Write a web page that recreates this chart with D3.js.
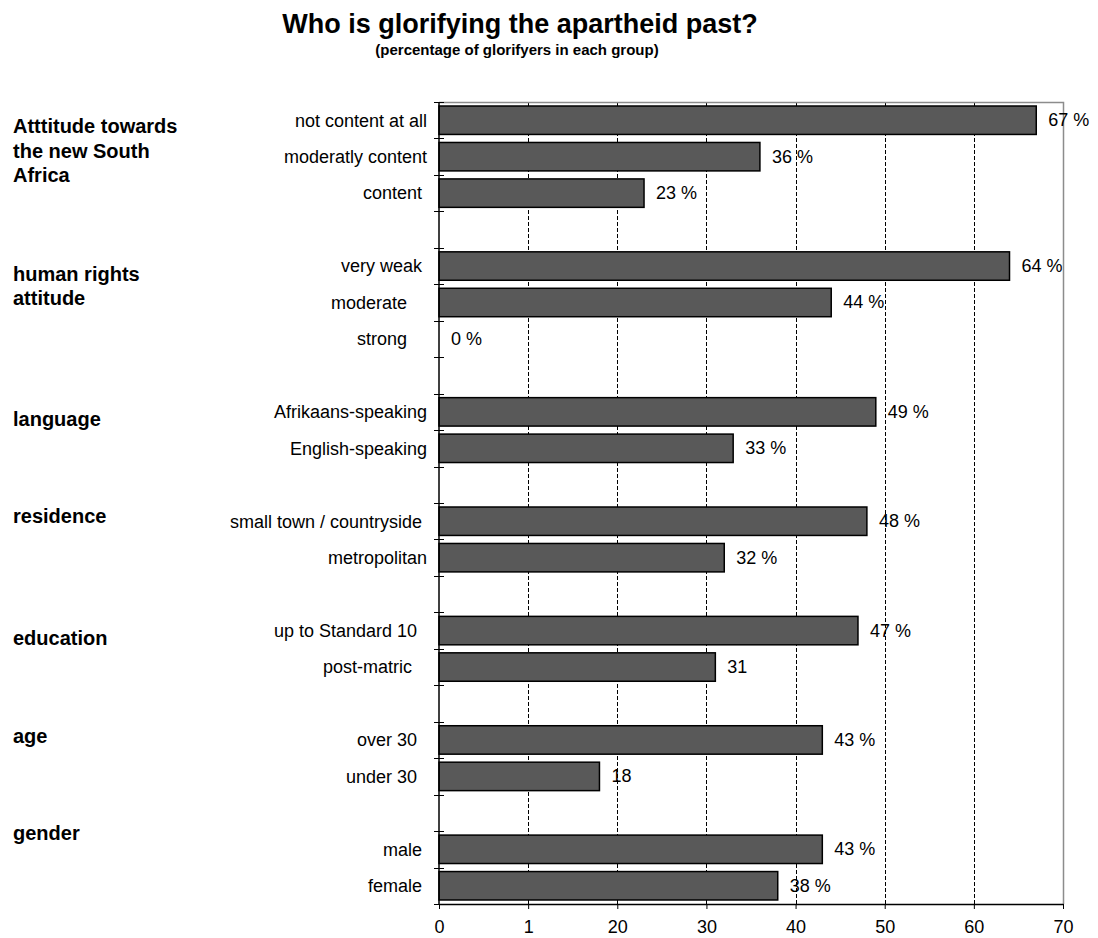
<!DOCTYPE html>
<html>
<head>
<meta charset="utf-8">
<script src="https://cdn.jsdelivr.net/npm/d3@7"></script>
<style>
  body { margin: 0; background: #fff; }
  svg { font-family: "Liberation Sans", Arial, sans-serif; }
  text { white-space: pre; }
</style>
</head>
<body>
<div id="chart"></div>
<script>
// Chart data
const title = "Who is glorifying the apartheid past?";
const subtitle = "(percentage of glorifyers in each group)";

const groupNames = [
  ["Atttitude towards", "the new South", "Africa"],
  ["human rights", "attitude"],
  ["language"],
  ["residence"],
  ["education"],
  ["age"],
  ["gender"]
];

const categoryLabels = [
  ["not content at all", "moderatly content", "content "],
  ["very weak ", "moderate    ", "strong    "],
  ["Afrikaans-speaking", "English-speaking"],
  ["small town / countryside ", "metropolitan"],
  ["up to Standard 10  ", "post-matric   "],
  ["over 30  ", "under 30  "],
  ["male ", "female "]
];

const values = [
  [67, 36, 23],
  [64, 44, 0],
  [49, 33],
  [48, 32],
  [47, 31],
  [43, 18],
  [43, 38]
];

const valueLabels = [
  ["67 %", "36 %", "23 %"],
  ["64 %", "44 %", "0 %"],
  ["49 %", "33 %"],
  ["48 %", "32 %"],
  ["47 %", "31"],
  ["43 %", "18"],
  ["43 %", "38 %"]
];

const tickValues = [0, 10, 20, 30, 40, 50, 60, 70];
const tickLabels = ["0", "1", "20", "30", "40", "50", "60", "70"];

// Build rows: one band per category, an empty band between groups
const rows = [];
groupNames.forEach((g, gi) => {
  categoryLabels[gi].forEach((c, ci) => {
    rows.push({key: `${gi}-${ci}`, label: c, value: values[gi][ci], text: valueLabels[gi][ci], group: gi});
  });
  if (gi < groupNames.length - 1) rows.push({key: `gap-${gi}`, gap: true});
});
const bars = rows.filter(r => !r.gap);

// Dimensions
const W = 1098, H = 938;
const margin = {top: 102, right: 35, bottom: 34, left: 439},
    width = W - margin.left - margin.right,
    height = H - margin.top - margin.bottom;

const root = d3.select("#chart")
  .append("svg")
    .attr("width", W)
    .attr("height", H);

// Titles
root.append("text")
    .attr("x", 520)
    .attr("y", 33)
    .attr("text-anchor", "middle")
    .style("font-size", "27px")
    .style("font-weight", "bold")
    .text(title);

root.append("text")
    .attr("x", 517)
    .attr("y", 54.5)
    .attr("text-anchor", "middle")
    .style("font-size", "15px")
    .style("font-weight", "bold")
    .text(subtitle);

const svg = root.append("g")
    .attr("transform", `translate(${margin.left},${margin.top})`);

// Scales
const x = d3.scaleLinear()
    .domain([0, 70])
    .range([0, width]);

const y = d3.scaleBand()
    .domain(rows.map(r => r.key))
    .range([0, height])
    .paddingInner(0.22)
    .paddingOuter(0.11);

const px = v => Math.round(x(v)) + 0.5;

// Dashed gridlines
svg.append("g")
  .selectAll("line")
  .data(tickValues.slice(1, -1))
  .join("line")
    .attr("x1", d => px(d))
    .attr("x2", d => px(d))
    .attr("y1", 0)
    .attr("y2", height)
    .attr("stroke", "#000")
    .attr("stroke-width", 1)
    .attr("stroke-dasharray", "4,2");

// Plot area border (top and right)
svg.append("path")
    .attr("d", `M0,0.5H${width + 0.5}V${height}`)
    .attr("fill", "none")
    .attr("stroke", "#8c8c8c")
    .attr("stroke-width", 1.5);

// Bars
svg.append("g")
  .selectAll("rect")
  .data(bars.filter(d => d.value > 0))
  .join("rect")
    .attr("x", x(0))
    .attr("y", d => y(d.key))
    .attr("width", d => x(d.value) - x(0))
    .attr("height", y.bandwidth())
    .attr("fill", "#595959")
    .attr("stroke", "#000")
    .attr("stroke-width", 1.5);

// Value labels
svg.append("g")
  .selectAll("text")
  .data(bars)
  .join("text")
    .attr("x", d => x(d.value) + 12)
    .attr("y", d => y(d.key) + y.bandwidth() / 2)
    .attr("dy", "0.33em")
    .style("font-size", "18px")
    .text(d => d.text);

// X axis
const xAxis = svg.append("g")
    .attr("transform", `translate(0,${height})`)
    .call(d3.axisBottom(x)
      .tickValues(tickValues)
      .tickFormat((d, i) => tickLabels[i])
      .tickSize(5)
      .tickSizeOuter(0)
      .tickPadding(11));
xAxis.select(".domain").attr("stroke", "#000").attr("stroke-width", 1.5);
xAxis.selectAll(".tick line").attr("stroke", "#000").attr("stroke-width", 1);
xAxis.selectAll(".tick text")
    .style("font-size", "18px")
    .style("font-family", "\"Liberation Sans\", Arial, sans-serif")
    .attr("fill", "#000");

// Y axis line with cross ticks at band boundaries
svg.append("line")
    .attr("x1", 0).attr("x2", 0)
    .attr("y1", 0).attr("y2", height)
    .attr("stroke", "#000")
    .attr("stroke-width", 1.5);

svg.append("g")
  .selectAll("line")
  .data(d3.range(rows.length + 1))
  .join("line")
    .attr("x1", -5)
    .attr("x2", 5)
    .attr("y1", i => Math.round(i * y.step()) + 0.5)
    .attr("y2", i => Math.round(i * y.step()) + 0.5)
    .attr("stroke", "#000")
    .attr("stroke-width", 1);

// Category labels
svg.append("g")
  .selectAll("text")
  .data(bars)
  .join("text")
    .attr("x", -12)
    .attr("y", d => y(d.key) + y.bandwidth() / 2)
    .attr("dy", "0.35em")
    .attr("text-anchor", "end")
    .style("font-size", "18px")
    .text(d => d.label);

// Group labels, placed next to the first category of each group
const groupShift = [13, 14.5, 14, 1.5, 14, 3, -9];
const groupG = root.append("g");
groupNames.forEach((lines, gi) => {
  const first = `${gi}-0`;
  const base = margin.top + y(first) + y.bandwidth() / 2 + groupShift[gi];
  const t = groupG.append("text")
      .attr("x", 13)
      .attr("y", base)
      .style("font-size", "20px")
      .style("font-weight", "bold");
  lines.forEach((line, li) => {
    t.append("tspan")
        .attr("x", 13)
        .attr("y", base + li * 24.5)
        .text(line);
  });
});
</script>
</body>
</html>
